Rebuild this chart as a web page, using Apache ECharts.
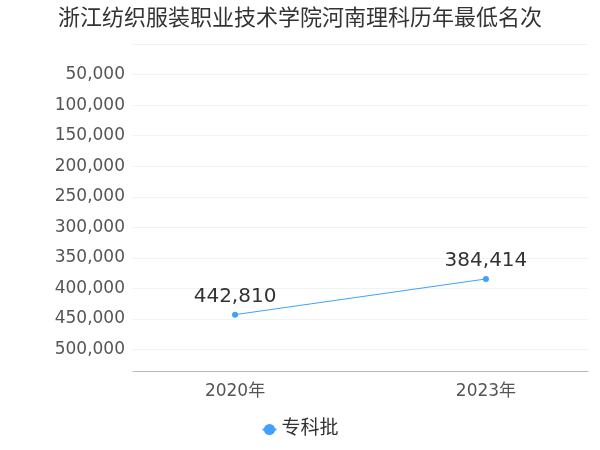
<!DOCTYPE html><html><head><meta charset="utf-8"><script src="https://cdn.jsdelivr.net/npm/echarts@6/dist/echarts.min.js"></script></head><body style="margin:0"><div id="c" style="width:600px;height:450px"></div><script>
const years=[2020,2023];
const values=[442810,384414];
const seriesName='专科批';
const F='DejaVu Sans, Noto Sans CJK SC';
const c=echarts.init(document.getElementById('c'));
c.setOption({
textStyle:{fontFamily:F},
title:{text:'浙江纺织服装职业技术学院河南理科历年最低名次',left:'center',top:3,textStyle:{fontSize:22,fontWeight:'normal',color:'#333',fontFamily:F}},
legend:{bottom:6,data:[seriesName],textStyle:{fontSize:19,color:'#333',fontFamily:F},itemWidth:14},
grid:{left:133,right:12,top:44,bottom:79},
xAxis:{type:'value',position:'bottom',min:2020-1.22,max:2023+1.22,
axisLine:{onZero:false,lineStyle:{color:'#bbb'}},axisTick:{show:false},
splitLine:{show:false},
axisLabel:{customValues:years,formatter:v=>v+'年',fontSize:17,color:'#555',margin:12,fontFamily:F}},
yAxis:{type:'value',inverse:true,min:0,max:535000,interval:50000,
axisLabel:{fontSize:17,color:'#555',showMinLabel:false,showMaxLabel:false,fontFamily:F,formatter:v=>v.toLocaleString('en-US')},
axisLine:{show:false},axisTick:{show:false},splitLine:{lineStyle:{color:'#f3f3f3'}}},
series:[{name:seriesName,type:'line',data:years.map((y,i)=>[y,values[i]]),color:'#3fa0ff',symbol:'circle',symbolSize:6,lineStyle:{width:1},
label:{show:true,position:'top',fontSize:20,color:'#333',fontFamily:F,formatter:p=>p.value[1].toLocaleString('en-US')}}]
});
</script></body></html>
